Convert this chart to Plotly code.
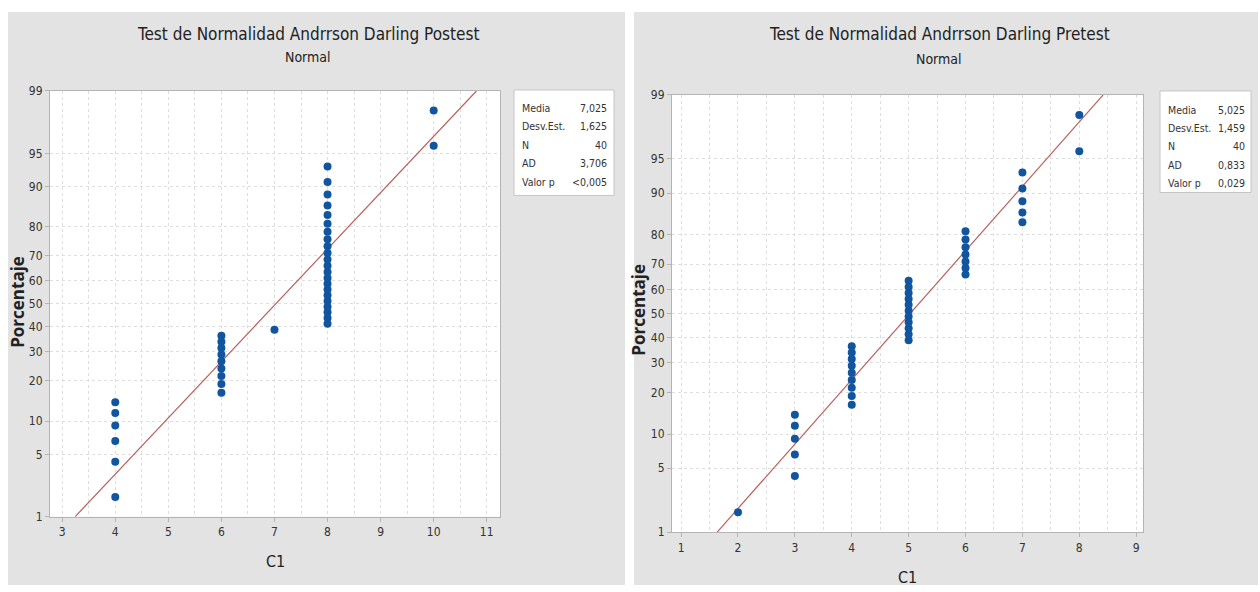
import plotly.graph_objects as go
from statistics import NormalDist

# ---------------- data ----------------
post_values = [4, 4, 4, 4, 4, 4,
               6, 6, 6, 6, 6, 6, 6, 6, 6,
               7,
               8, 8, 8, 8, 8, 8, 8, 8, 8, 8, 8, 8, 8, 8, 8, 8, 8, 8, 8, 8, 8, 8,
               10, 10]
pre_values = [2,
              3, 3, 3, 3, 3,
              4, 4, 4, 4, 4, 4, 4, 4, 4,
              5, 5, 5, 5, 5, 5, 5, 5, 5, 5, 5,
              6, 6, 6, 6, 6, 6, 6,
              7, 7, 7, 7, 7,
              8, 8]

post_mean, post_sd = 7.025, 1.625
pre_mean, pre_sd = 5.025, 1.459

stat_labels = ["Media", "Desv.Est.", "N", "AD", "Valor p"]
post_stats = ["7,025", "1,625", "40", "3,706", "<0,005"]
pre_stats = ["5,025", "1,459", "40", "0,833", "0,029"]

percent_ticks = [1, 5, 10, 20, 30, 40, 50, 60, 70, 80, 90, 95, 99]
post_xticks = [3, 4, 5, 6, 7, 8, 9, 10, 11]
pre_xticks = [1, 2, 3, 4, 5, 6, 7, 8, 9]

titles = ["Test de Normalidad Andrrson Darling Postest",
          "Test de Normalidad Andrrson Darling Pretest"]

# ---------------- helpers ----------------
W, H = 1260, 592
nd = NormalDist()


def px(x):
    return x / W


def py(y):
    return 1 - y / H


def positions(vals):
    s = sorted(vals)
    n = len(s)
    z = [nd.inv_cdf((i + 1 - 0.3) / (n + 0.4)) for i in range(n)]
    return s, z


FONT = "Liberation Sans Narrow, Arial Narrow, DejaVu Sans Condensed, Arial, sans-serif"
MARK = "#12559f"
LINE = "#bb5f5b"
GRID = "#dedede"
FRAME = "#b4b4b4"
TXT = "#333333"

zlo, zhi = nd.inv_cdf(0.01), nd.inv_cdf(0.99)
ztick = [nd.inv_cdf(p / 100) for p in percent_ticks]

fig = go.Figure()

for k, (vals, m, sd) in enumerate([(post_values, post_mean, post_sd),
                                   (pre_values, pre_mean, pre_sd)]):
    xa = "x" if k == 0 else "x2"
    ya = "y" if k == 0 else "y2"
    xs, zs = positions(vals)
    fig.add_trace(go.Scatter(x=[m + sd * zlo, m + sd * zhi], y=[zlo, zhi],
                             mode="lines", line=dict(color=LINE, width=1.2),
                             xaxis=xa, yaxis=ya, showlegend=False, hoverinfo="skip"))
    fig.add_trace(go.Scatter(x=xs, y=zs, mode="markers",
                             marker=dict(color=MARK, size=8, symbol="circle"),
                             xaxis=xa, yaxis=ya, showlegend=False))


def xaxis_cfg(domain, rng, ticks):
    minor = sorted(set([t + 0.5 for t in ticks] + [ticks[0] - 0.5]))
    return dict(domain=domain, range=rng, tickmode="array", tickvals=ticks,
                ticktext=[str(t) for t in ticks],
                showgrid=True, gridcolor=GRID, griddash="dot", gridwidth=1,
                minor=dict(tickmode="array", tickvals=minor, showgrid=True,
                           gridcolor=GRID, griddash="dot", gridwidth=1),
                zeroline=False, showline=True, mirror=True, linecolor=FRAME,
                linewidth=1, ticks="outside", ticklen=4, tickcolor=FRAME,
                tickfont=dict(family=FONT, size=12, color=TXT), fixedrange=True)


def yaxis_cfg(domain, anchor):
    return dict(domain=domain, range=[zlo, zhi], anchor=anchor, tickmode="array",
                tickvals=ztick, ticktext=[str(p) for p in percent_ticks],
                showgrid=True, gridcolor=GRID, griddash="dot", gridwidth=1,
                zeroline=False, showline=True, mirror=True, linecolor=FRAME,
                linewidth=1, ticks="outside", ticklen=4, tickcolor=FRAME,
                tickfont=dict(family=FONT, size=12, color=TXT), fixedrange=True)


shapes = [
    dict(type="rect", xref="paper", yref="paper", x0=px(8), x1=px(625), y0=0, y1=py(5),
         fillcolor="#e3e3e3", line=dict(width=0), layer="below"),
    dict(type="rect", xref="paper", yref="paper", x0=px(634), x1=px(1258), y0=0, y1=py(5),
         fillcolor="#e3e3e3", line=dict(width=0), layer="below"),
    dict(type="rect", xref="paper", yref="paper", x0=px(50), x1=px(500), y0=py(522), y1=py(86),
         fillcolor="white", line=dict(width=0), layer="below"),
    dict(type="rect", xref="paper", yref="paper", x0=px(672), x1=px(1143), y0=py(538), y1=py(90),
         fillcolor="white", line=dict(width=0), layer="below"),
    dict(type="rect", xref="paper", yref="paper", x0=px(514), x1=px(614), y0=py(193), y1=py(85),
         fillcolor="white", line=dict(width=1, color="#c6c6c6")),
    dict(type="rect", xref="paper", yref="paper", x0=px(1160), x1=px(1251), y0=py(190), y1=py(86),
         fillcolor="white", line=dict(width=1, color="#c6c6c6")),
]

ann = []
# titles
for cx, ty, sy, t in [(308, 28, 51, titles[0]), (939, 28, 53, titles[1])]:
    ann.append(dict(x=px(cx), y=py(ty), xref="paper", yref="paper", text=t, showarrow=False,
                    xanchor="center", yanchor="middle",
                    font=dict(family=FONT, size=17, color="#222222")))
    ann.append(dict(x=px(cx), y=py(sy), xref="paper", yref="paper", text="Normal",
                    showarrow=False, xanchor="center", yanchor="middle",
                    font=dict(family=FONT, size=14, color="#222222")))
# axis titles
for x, y in [(275, 568), (907, 584)]:
    ann.append(dict(x=px(x), y=py(y), xref="paper", yref="paper", text="C1", showarrow=False,
                    xanchor="center", yanchor="middle",
                    font=dict(family=FONT, size=16, color="#222222")))
for x, y in [(18, 302), (639, 310)]:
    ann.append(dict(x=px(x), y=py(y), xref="paper", yref="paper", text="<b>Porcentaje</b>",
                    showarrow=False, textangle=-90, xanchor="center", yanchor="middle",
                    font=dict(family="Open Sans, Arial, sans-serif", size=17, color="#222222")))
# stats boxes
for lx, rx, y0, dy, vals in [(520, 609, 103, 19, post_stats), (1166, 1247, 105, 18.8, pre_stats)]:
    for i, (lab, v) in enumerate(zip(stat_labels, vals)):
        yy = y0 + dy * i
        ann.append(dict(x=px(lx), y=py(yy), xref="paper", yref="paper", text=lab,
                        showarrow=False, xanchor="left", yanchor="middle",
                        font=dict(family=FONT, size=10.5, color=TXT)))
        ann.append(dict(x=px(rx), y=py(yy), xref="paper", yref="paper", text=v,
                        showarrow=False, xanchor="right", yanchor="middle",
                        font=dict(family=FONT, size=10.5, color=TXT)))

fig.update_layout(
    width=W, height=H, margin=dict(l=0, r=0, t=0, b=0),
    paper_bgcolor="white", plot_bgcolor="rgba(0,0,0,0)",
    xaxis=xaxis_cfg([px(50), px(500)], [2.77, 11.25], post_xticks) | dict(anchor="y"),
    yaxis=yaxis_cfg([py(522), py(86)], "x"),
    xaxis2=xaxis_cfg([px(672), px(1143)], [0.84, 9.12], pre_xticks) | dict(anchor="y2"),
    yaxis2=yaxis_cfg([py(538), py(90)], "x2"),
    shapes=shapes, annotations=ann, showlegend=False,
)

fig.write_html("out.html", config={"displayModeBar": False},
               post_script="document.body.style.margin='0';document.body.style.padding='0';")
